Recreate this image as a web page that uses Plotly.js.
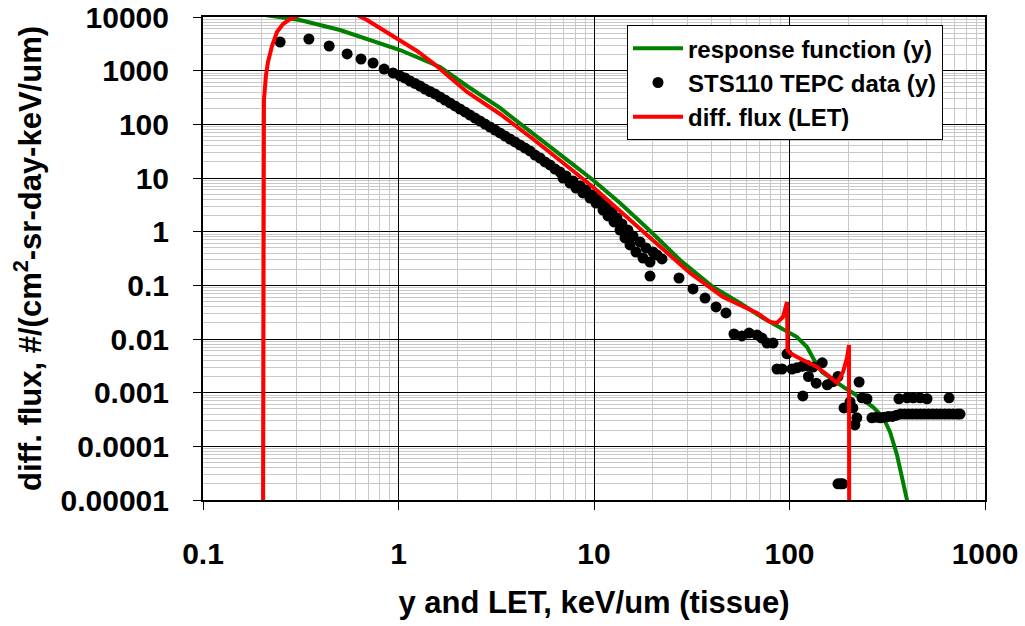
<!DOCTYPE html>
<html>
<head>
<meta charset="utf-8">
<script src="https://cdn.plot.ly/plotly-3.0.1.min.js"></script>
<style>html,body{margin:0;padding:0;background:#fff;}#chart{width:1025px;height:626px;}</style>
</head>
<body>
<div id="chart"></div>
<script>
// ---- response function (y) ----
const respX = [0.191, 0.313, 0.502, 0.741, 1.018, 1.631, 2.241, 3.305, 4.875, 7.275, 9.88, 13.58, 18.67, 27.54, 40.62, 55.82, 73.18, 94.85, 109.2, 122.9, 131.9, 146.6, 161.2, 192.3, 211.3, 267.4, 300.8, 326.8, 354.8, 380.8, 399.1, 405];
const respY = [11370, 8794, 5725, 3572, 2427, 1171, 518, 202, 69.0, 21.7, 9.18, 3.42, 1.17, 0.297, 0.0932, 0.0469, 0.0246, 0.0147, 0.0109, 0.0071, 0.00443, 0.00243, 0.00188, 0.00122, 0.000987, 0.000541, 0.000352, 0.000185, 0.000069, 0.0000236, 0.00001, 0.000007];

// ---- STS110 TEPC data (y) ----
const tepcX = [
  0.248, 0.348, 0.442, 0.546, 0.643, 0.741, 0.844, 0.938,
  1.018, 1.079, 1.145, 1.214, 1.288, 1.366, 1.449, 1.537, 1.631, 1.729, 1.834, 1.945, 2.063, 2.189, 2.321, 2.462,
  2.612, 2.770, 2.938, 3.116, 3.305, 3.506, 3.718, 3.944, 4.183, 4.437, 4.706, 4.992, 5.295, 5.616, 5.957, 6.318,
  6.70, 6.94, 7.19, 7.54, 7.81, 8.09, 8.48, 8.78, 9.10, 9.54, 9.88, 10.24, 10.73, 11.12, 11.52, 11.79, 12.36, 12.66,
  13.11, 13.58, 13.90, 14.40, 14.92, 15.28, 15.83, 16.40, 17.19, 17.81, 18.45, 19.34, 20.04, 21.00, 22.28, 19.34, 27.22,
  32.1, 37.0, 42.1, 47.3, 52.0, 57.1, 62.1, 68.2, 72.3, 76.7, 82.4, 97.1, 86.3, 91.6, 103, 109, 116, 123, 132, 147,
  125, 137, 156, 167, 177, 117, 190, 227, 204, 211, 235, 249, 221, 216,
  264, 278, 292, 306, 320, 336, 352, 370, 388, 406, 425, 446, 468, 490, 514, 540, 566, 594, 624, 655, 688, 722, 745,
  363, 400, 430, 465, 505, 655, 177, 183, 187
];
const tepcY = [
  3420, 3890, 2880, 2050, 1650, 1390, 1070, 906,
  796, 730, 642, 577, 518, 455, 409, 368, 323, 284, 250, 220, 193, 170, 149, 131,
  115, 101, 89.2, 78.4, 69.0, 60.6, 53.3, 46.9, 41.2, 36.2, 31.9, 26.8, 23.6, 19.9, 17.5, 14.7,
  12.9, 10.0, 10.9, 8.07, 8.80, 6.51, 7.10, 5.26, 5.98, 4.24, 4.83, 3.42, 3.89, 2.53, 3.01, 1.96, 2.33, 1.52,
  1.80, 1.07, 1.39, 0.763, 1.07, 0.565, 0.831, 0.418, 0.642, 0.323, 0.497, 0.272, 0.418, 0.368, 0.310, 0.149, 0.137,
  0.0855, 0.058, 0.0395, 0.0306, 0.0124, 0.0114, 0.0129, 0.0119, 0.0104, 0.0084, 0.0084, 0.0053, 0.00276, 0.00276, 0.00276, 0.0029, 0.0031, 0.0032, 0.0030, 0.0036,
  0.0020, 0.0015, 0.0014, 0.0016, 0.0020, 0.00087, 0.00052, 0.00158, 0.00067, 0.00052, 0.00080, 0.00077, 0.00034, 0.00025,
  0.00034, 0.00035, 0.00034, 0.00035, 0.00036, 0.00036, 0.00038, 0.0004, 0.0004, 0.0004, 0.0004, 0.0004, 0.0004, 0.0004, 0.0004, 0.0004, 0.0004, 0.0004, 0.0004, 0.0004, 0.0004, 0.0004, 0.0004,
  0.00077, 0.0008, 0.0008, 0.0008, 0.00077, 0.0008, 0.00002, 0.00002, 0.00002
];

// ---- diff. flux (LET) ----
const fluxX = [0.2027, 0.2027, 0.205, 0.210, 0.215, 0.2254, 0.239, 0.2566, 0.2786, 0.313, 0.3526, 0.45, 0.585, 0.690, 0.833, 1.018, 1.243, 1.502, 1.834, 2.241, 3.305, 4.875, 7.275, 9.88, 18.67, 30.97, 45.7, 68.2, 79.5, 86.3, 92.6, 95.96, 97.1, 97.7, 100.6, 109.2, 138.2, 161.2, 175, 187.8, 196.8, 201.5, 202.0];
const fluxY = [1e-6, 100, 284, 830, 1450, 2882, 5254, 7406, 9178, 10897, 12395, 14000, 11870, 8794, 5725, 3728, 2325, 1390, 762, 400, 156, 53.3, 16.7, 6.80, 0.867, 0.170, 0.0607, 0.0306, 0.0208, 0.0199, 0.0257, 0.0412, 0.0489, 0.00624, 0.00549, 0.00462, 0.00301, 0.00196, 0.00152, 0.00243, 0.00443, 0.00774, 1e-6];

// ---- axes ----
const xTickVals = [0.1, 1, 10, 100, 1000];
const xTickText = ['0.1', '1', '10', '100', '1000'];
const yTickVals = [0.00001, 0.0001, 0.001, 0.01, 0.1, 1, 10, 100, 1000, 10000];
const yTickText = ['0.00001', '0.0001', '0.001', '0.01', '0.1', '1', '10', '100', '1000', '10000'];

const FONT = 'Arial, "Liberation Sans", sans-serif';

const traces = [
  {x: respX, y: respY, type: 'scatter', mode: 'lines', name: 'response function (y)',
   line: {color: '#008000', width: 4}},
  {x: tepcX, y: tepcY, type: 'scatter', mode: 'markers', name: 'STS110 TEPC data (y)',
   marker: {color: '#000000', size: 11}},
  {x: fluxX, y: fluxY, type: 'scatter', mode: 'lines', name: 'diff. flux (LET)',
   line: {color: '#ff0000', width: 4}}
];

const axisCommon = {
  type: 'log', showline: true, linecolor: '#000', linewidth: 2, mirror: true,
  ticks: 'outside', ticklen: 8, tickwidth: 1, tickcolor: '#000',
  showgrid: true, gridcolor: '#000', gridwidth: 1, zeroline: false,
  minor: {dtick: 'D1', showgrid: true, gridcolor: '#c8c8c8', gridwidth: 1, ticks: ''},
  tickmode: 'array',
  tickfont: {family: FONT, size: 30, color: '#000', weight: 'bold'}
};

const layout = {
  width: 1025, height: 626,
  margin: {l: 203, r: 40, t: 17, b: 126},
  paper_bgcolor: '#fff', plot_bgcolor: '#fff',
  font: {family: FONT, color: '#000'},
  showlegend: true,
  xaxis: Object.assign({}, axisCommon, {
    range: [-1, 3], tickvals: xTickVals, ticktext: xTickText,
    ticklabelstandoff: 18,
    title: {text: 'y and LET, keV/um (tissue)', font: {family: FONT, size: 31, color: '#000', weight: 'bold'}, standoff: 22}
  }),
  yaxis: Object.assign({}, axisCommon, {
    range: [-5, 4], tickvals: yTickVals, ticktext: yTickText,
    ticklabelstandoff: 18,
    title: {text: 'diff. flux, #/(cm<sup>2</sup>-sr-day-keV/um)', font: {family: FONT, size: 31, color: '#000', weight: 'bold'}, standoff: 10}
  }),
  legend: {
    x: 0.5422, y: 0.983, xanchor: 'left', yanchor: 'top',
    bgcolor: '#fff', bordercolor: '#000', borderwidth: 1,
    font: {family: FONT, size: 24, color: '#000', weight: 'bold'},
    itemwidth: 50, tracegroupgap: 0
  }
};

Plotly.newPlot('chart', traces, layout, {staticPlot: true, displayModeBar: false});
</script>
</body>
</html>
